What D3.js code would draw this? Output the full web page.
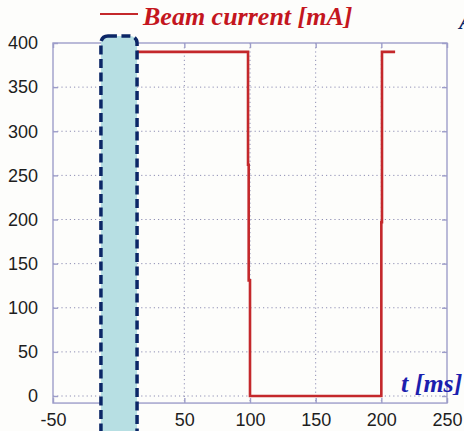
<!DOCTYPE html>
<html>
<head>
<meta charset="utf-8">
<script src="https://cdn.jsdelivr.net/npm/d3@7"></script>
<style>
  html, body { margin: 0; padding: 0; background: #fdfdfb; }
  svg { display: block; }
</style>
</head>
<body>
<svg id="chart" width="464" height="431"></svg>
<script>
// Beam current trace: time in ms, current in mA
const timeMs    = [0,   98.5, 98.5, 99,  99,  100, 100, 200, 200, 200.5, 200.5, 210.5];
const currentMA = [390, 390,  262,  262, 131, 131, 0,   0,   197, 197,   390,   390];

// Axis ticks
const xTicks = [-50, 0, 50, 100, 150, 200, 250];
const xTickLabels = ["-50", "", "50", "100", "150", "200", "250"];
const yTicks = [0, 50, 100, 150, 200, 250, 300, 350, 400];

// Highlighted window (ms)
const windowMs = [-13.5, 14];

const svg = d3.select("#chart");
const W = 464, H = 431;
svg.append("rect").attr("width", W).attr("height", H).attr("fill", "#fdfdfb");

const x = d3.scaleLinear().domain([-50, 250]).range([53, 447]);
const y = d3.scaleLinear().domain([0, 400]).range([396, 43]);
const yBottom = -8;

const frameColor = "#9d9dc9";
const gridColor = "#8f8fb4";

// grid
const g = svg.append("g");
g.selectAll("line.hg").data(yTicks.filter(v => v < 400)).join("line")
  .attr("x1", x(-50)).attr("x2", x(250))
  .attr("y1", d => y(d)).attr("y2", d => y(d))
  .attr("stroke", gridColor).attr("stroke-width", 1)
  .attr("stroke-dasharray", "1.2,3");
g.selectAll("line.vg").data(xTicks.filter(v => v > -50 && v < 250)).join("line")
  .attr("x1", d => x(d)).attr("x2", d => x(d))
  .attr("y1", y(400)).attr("y2", y(yBottom))
  .attr("stroke", gridColor).attr("stroke-width", 1)
  .attr("stroke-dasharray", "1.2,3");

// frame
svg.append("rect")
  .attr("x", x(-50)).attr("y", y(400))
  .attr("width", x(250) - x(-50)).attr("height", y(yBottom) - y(400))
  .attr("fill", "none").attr("stroke", frameColor).attr("stroke-width", 1.4);

// axes with inward ticks
const font = "'Liberation Sans', Arial, sans-serif";
const xAxisB = d3.axisBottom(x).tickValues(xTicks).tickSize(-5).tickPadding(10)
  .tickFormat((d, i) => xTickLabels[i]);
const gx = svg.append("g").attr("transform", `translate(0,${y(yBottom)})`).call(xAxisB);
const xAxisT = d3.axisTop(x).tickValues(xTicks).tickSize(-5).tickFormat("");
const gxt = svg.append("g").attr("transform", `translate(0,${y(400)})`).call(xAxisT);
const yAxisL = d3.axisLeft(y).tickValues(yTicks).tickSize(-5).tickPadding(15);
const gy = svg.append("g").attr("transform", `translate(${x(-50)},0)`).call(yAxisL);
const yAxisR = d3.axisRight(y).tickValues(yTicks).tickSize(-5).tickFormat("");
const gyr = svg.append("g").attr("transform", `translate(${x(250)},0)`).call(yAxisR);
[gx, gxt, gy, gyr].forEach(a => {
  a.select(".domain").remove();
  a.selectAll(".tick line").attr("stroke", frameColor).attr("stroke-width", 1.4);
  a.selectAll(".tick text").attr("fill", "#1e1e1e")
    .style("font-family", font).style("font-size", "18px");
});

// beam current trace
const line = d3.line().x(d => x(d[0])).y(d => y(d[1]));
svg.append("path")
  .datum(timeMs.map((t, i) => [t, currentMA[i]]))
  .attr("d", line)
  .attr("fill", "none").attr("stroke", "#c4282b").attr("stroke-width", 2.6)
  .attr("stroke-linejoin", "miter");

// highlighted window
svg.append("rect")
  .attr("x", x(windowMs[0])).attr("y", 36)
  .attr("width", x(windowMs[1]) - x(windowMs[0])).attr("height", 420)
  .attr("rx", 7).attr("ry", 7)
  .attr("fill", "#b7dfe3").attr("stroke", "#0b2666")
  .attr("stroke-width", 3.5).attr("stroke-dasharray", "9,4.5");

const serif = "'Liberation Serif', 'Times New Roman', serif";

// legend
svg.append("line").attr("x1", 100).attr("x2", 138).attr("y1", 14).attr("y2", 14)
  .attr("stroke", "#c4282b").attr("stroke-width", 2.2);
svg.append("text").attr("x", 143).attr("y", 25)
  .attr("fill", "#c4161e")
  .style("font-family", serif)
  .style("font-weight", "bold").style("font-style", "italic").style("font-size", "26px")
  .text("Beam current [mA]");

// axis title
svg.append("text").attr("x", 401).attr("y", 392)
  .attr("fill", "#1b1fae")
  .style("font-family", serif)
  .style("font-weight", "bold").style("font-style", "italic").style("font-size", "26px")
  .text("t [ms]");

// edge of a neighbouring label
svg.append("text").attr("x", 459).attr("y", 29)
  .attr("fill", "#0b2666")
  .style("font-family", serif)
  .style("font-weight", "bold").style("font-style", "italic").style("font-size", "23px")
  .text("A");
</script>
</body>
</html>
